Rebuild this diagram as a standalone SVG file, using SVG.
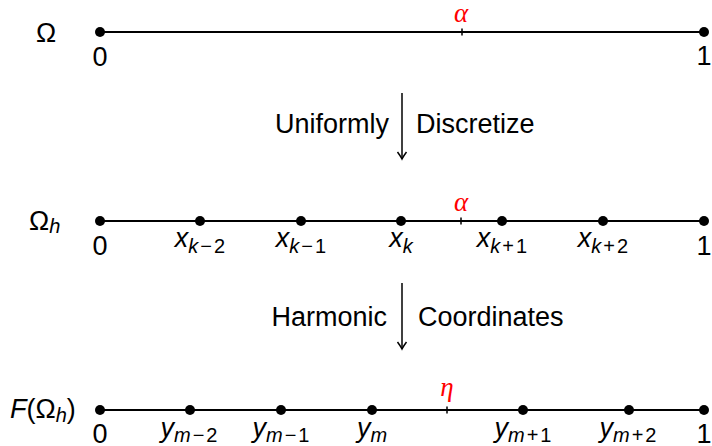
<svg xmlns="http://www.w3.org/2000/svg" width="712" height="446" viewBox="0 0 712 446">
<style>
.axis{stroke:#000;stroke-width:2;fill:none}
.tick{stroke:#000;stroke-width:1.5}
.dot{fill:#000}
.t{font-family:"Liberation Sans",Arial,sans-serif;font-size:27px;fill:#000}
.m{font-family:"Liberation Sans",Arial,sans-serif;font-size:27px;font-style:italic;fill:#000}
.n{font-family:"Liberation Sans",Arial,sans-serif;font-size:27px;fill:#000;text-anchor:middle}
.g{font-family:"Liberation Serif","Times New Roman",serif;font-size:27px;font-style:italic;fill:#ff0000;text-anchor:middle}
.sub{font-size:20px}
.arr{stroke:#000;stroke-width:1.5;fill:none}
</style>
<defs>
<marker id="ah" markerWidth="12" markerHeight="12" refX="6" refY="10" orient="0" markerUnits="userSpaceOnUse">
<path d="M1.5,3 Q4.5,7 6,10 Q7.5,7 10.5,3" fill="none" stroke="#000" stroke-width="1.5"/>
</marker>
</defs>

<g id="omega">
<text class="t" x="46" y="42" text-anchor="middle" font-size="28">Ω</text>
<line class="axis" x1="100" y1="32" x2="704" y2="32"/>
<line class="tick" x1="462" y1="28.5" x2="462" y2="35.5"/>
<circle class="dot" cx="100" cy="32" r="5"/>
<circle class="dot" cx="704" cy="32" r="5"/>
<text class="n" x="100" y="66">0</text>
<text class="n" x="704" y="65">1</text>
<text class="g" x="461" y="22">α</text>
</g>

<g id="omega-h">
<text class="t" x="29" y="230" font-size="28">Ω<tspan class="sub" font-style="italic" dy="3">h</tspan></text>
<line class="axis" x1="100" y1="221" x2="704" y2="221"/>
<line class="tick" x1="461" y1="217.5" x2="461" y2="224.5"/>
<circle class="dot" cx="100" cy="221" r="5"/>
<circle class="dot" cx="200" cy="221" r="5"/>
<circle class="dot" cx="301" cy="221" r="5"/>
<circle class="dot" cx="401" cy="221" r="5"/>
<circle class="dot" cx="502" cy="221" r="5"/>
<circle class="dot" cx="603" cy="221" r="5"/>
<circle class="dot" cx="704" cy="221" r="5"/>
<text class="n" x="100" y="255">0</text>
<text class="n" x="704" y="255">1</text>
<text class="g" x="461" y="211">α</text>
<text class="m" x="200" y="247" text-anchor="middle">x<tspan class="sub" dy="6">k<tspan font-style="normal" dx="2">−</tspan><tspan font-style="normal" dx="2">2</tspan></tspan></text>
<text class="m" x="301" y="247" text-anchor="middle">x<tspan class="sub" dy="6">k<tspan font-style="normal" dx="2">−</tspan><tspan font-style="normal" dx="2">1</tspan></tspan></text>
<text class="m" x="401" y="247" text-anchor="middle">x<tspan class="sub" dy="6">k</tspan></text>
<text class="m" x="502" y="247" text-anchor="middle">x<tspan class="sub" dy="6">k<tspan font-style="normal" dx="2">+</tspan><tspan font-style="normal" dx="2">1</tspan></tspan></text>
<text class="m" x="603" y="247" text-anchor="middle">x<tspan class="sub" dy="6">k<tspan font-style="normal" dx="2">+</tspan><tspan font-style="normal" dx="2">2</tspan></tspan></text>
</g>

<g id="f-omega-h">
<text class="m" x="10" y="418" font-size="29">F<tspan font-style="normal">(Ω</tspan><tspan class="sub" dy="4">h</tspan><tspan font-style="normal" dy="-4">)</tspan></text>
<line class="axis" x1="100" y1="410" x2="704" y2="410"/>
<line class="tick" x1="447" y1="406.5" x2="447" y2="413.5"/>
<circle class="dot" cx="100" cy="410" r="5"/>
<circle class="dot" cx="190" cy="410" r="5"/>
<circle class="dot" cx="281" cy="410" r="5"/>
<circle class="dot" cx="372" cy="410" r="5"/>
<circle class="dot" cx="523" cy="410" r="5"/>
<circle class="dot" cx="629" cy="410" r="5"/>
<circle class="dot" cx="704" cy="410" r="5"/>
<text class="n" x="100" y="443">0</text>
<text class="n" x="704" y="443">1</text>
<text class="g" x="447" y="396">η</text>
<text class="m" x="189" y="437" text-anchor="middle">y<tspan class="sub" dy="5">m<tspan font-style="normal" dx="2">−</tspan><tspan font-style="normal" dx="2">2</tspan></tspan></text>
<text class="m" x="281" y="437" text-anchor="middle">y<tspan class="sub" dy="5">m<tspan font-style="normal" dx="2">−</tspan><tspan font-style="normal" dx="2">1</tspan></tspan></text>
<text class="m" x="372" y="437" text-anchor="middle">y<tspan class="sub" dy="5">m</tspan></text>
<text class="m" x="523" y="437" text-anchor="middle">y<tspan class="sub" dy="5">m<tspan font-style="normal" dx="2">+</tspan><tspan font-style="normal" dx="2">1</tspan></tspan></text>
<text class="m" x="628" y="437" text-anchor="middle">y<tspan class="sub" dy="5">m<tspan font-style="normal" dx="2">+</tspan><tspan font-style="normal" dx="2">2</tspan></tspan></text>
</g>

<g id="connectors">
<line class="arr" x1="402" y1="93" x2="402" y2="159" marker-end="url(#ah)"/>
<text class="t" x="389" y="133" text-anchor="end">Uniformly</text>
<text class="t" x="416" y="133">Discretize</text>
<line class="arr" x1="402" y1="283" x2="402" y2="349" marker-end="url(#ah)"/>
<text class="t" x="387" y="326" text-anchor="end">Harmonic</text>
<text class="t" x="418" y="326">Coordinates</text>
</g>
</svg>
